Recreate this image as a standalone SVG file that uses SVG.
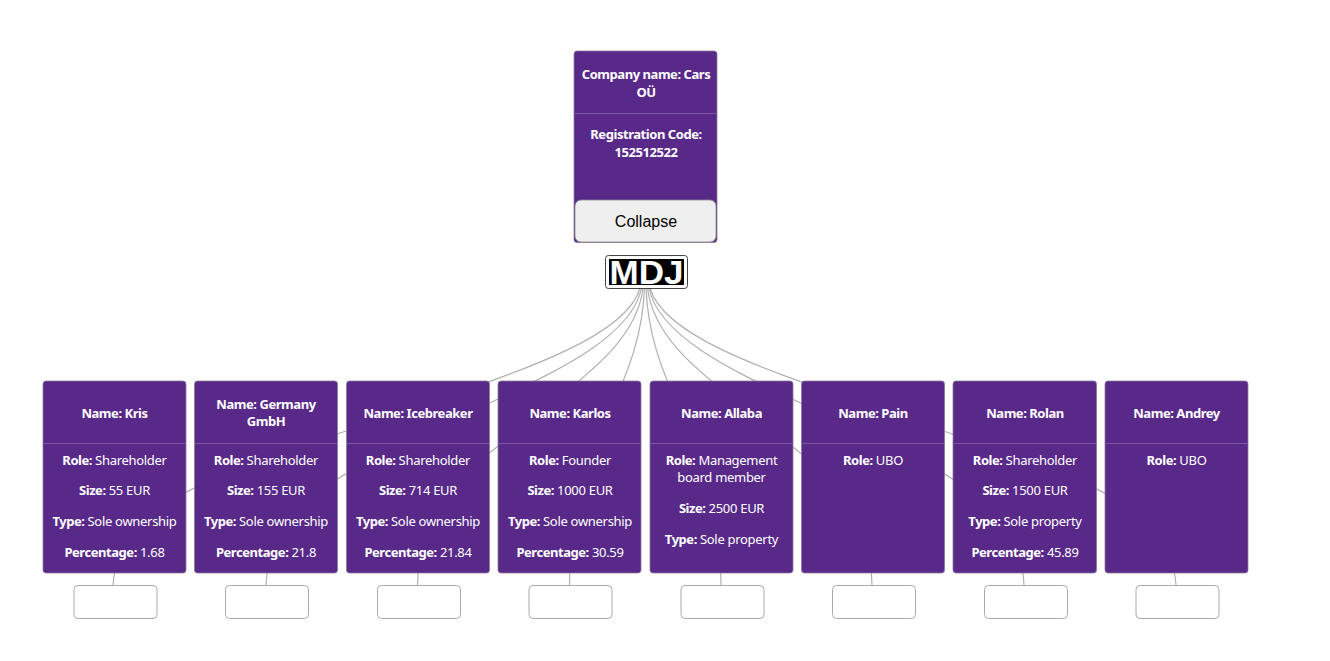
<svg xmlns="http://www.w3.org/2000/svg" width="1330" height="661" viewBox="0 0 1330 661">
<style>
.card{fill:#59298a;stroke:#8a7a9a;stroke-width:.8}
.div{stroke:#7a56a3;stroke-width:1.2}
.t{font-family:"Noto Sans","Open Sans",sans-serif;font-size:13px;fill:#fff;text-anchor:middle;letter-spacing:-.3px}
.b{font-weight:700;letter-spacing:-.45px}
.box{fill:#fff;stroke:#aaa;stroke-width:1}
.link{fill:none;stroke:#b0b0b0;stroke-width:1.2}
</style>
<rect width="1330" height="661" fill="#fff"/>
<g id="connectors">
<path class="link" d="M640,288C624.2,345 481.9,382.5 376.5,420.5C244.75,467 118.3,495 113,585"/>
<path class="link" d="M641.5,288C630.2,345 528.85,382.5 453.75,420.5C359.9,467 269.8,495 266,585"/>
<path class="link" d="M643,288C636.2,345 575.35,382.5 530.25,420.5C473.9,467 419.8,495 417.5,585"/>
<path class="link" d="M644.5,288C642.25,345 622,382.5 607,420.5C588.25,467 570.25,495 569.5,585"/>
<path class="link" d="M646,288C648.25,345 668.5,382.5 683.5,420.5C702.25,467 720.25,495 721,585"/>
<path class="link" d="M647.5,288C654.2,345 714.85,382.5 759.75,420.5C815.9,467 869.8,495 872,585"/>
<path class="link" d="M649,288C660.25,345 761.5,382.5 836.5,420.5C930.25,467 1020.25,495 1024,585"/>
<path class="link" d="M650,288C665.8,345 807.8,382.5 913,420.5C1044.5,467 1170.7,495 1176,585"/>
</g>
<g id="company">
<rect class="card" x="574" y="51" width="143" height="191.500" rx="3"/>
<line class="div" x1="574.500" y1="113.500" x2="716.500" y2="113.500"/>
<text class="t b" x="646" y="79">Company name: Cars</text>
<text class="t b" x="646" y="97">OÜ</text>
<text class="t b" x="646" y="139">Registration Code:</text>
<text class="t b" x="646" y="157">152512522</text>
<rect x="575" y="200" width="141" height="42" rx="6" fill="#efefef" stroke="#8a8a8a" stroke-width=".8"/>
<text x="646" y="227" font-family="Liberation Sans,Arial,sans-serif" font-size="16" fill="#000" text-anchor="middle">Collapse</text>
</g>
<g id="logo">
<rect x="605.500" y="255.500" width="82" height="33" rx="3" fill="#fff" stroke="#444" stroke-width="1"/>
<rect x="609" y="259" width="75" height="26" fill="#000"/>
<text x="646.500" y="284" font-family="Liberation Sans,Arial,sans-serif" font-weight="700" font-size="33" fill="#fff" text-anchor="middle" textLength="74" lengthAdjust="spacingAndGlyphs">MDJ</text>
</g>
<g id="kris">
<rect class="card" x="43" y="381" width="143" height="192" rx="3"/><line class="div" x1="43.500" y1="443.500" x2="185.500" y2="443.500"/>
<text class="t b" x="114.500" y="418">Name: Kris</text>
<text class="t" x="114.500" y="465"><tspan class="b">Role:</tspan> Shareholder</text>
<text class="t" x="114.500" y="495"><tspan class="b">Size:</tspan> 55 EUR</text>
<text class="t" x="114.500" y="526"><tspan class="b">Type:</tspan> Sole ownership</text>
<text class="t" x="114.500" y="557"><tspan class="b">Percentage:</tspan> 1.68</text>
<rect class="box" x="74" y="585.500" width="83" height="33" rx="4"/>
</g>
<g id="germany">
<rect class="card" x="194.500" y="381" width="143" height="192" rx="3"/><line class="div" x1="195" y1="443.500" x2="337" y2="443.500"/>
<text class="t b" x="266" y="409">Name: Germany</text>
<text class="t b" x="266" y="426">GmbH</text>
<text class="t" x="266" y="465"><tspan class="b">Role:</tspan> Shareholder</text>
<text class="t" x="266" y="495"><tspan class="b">Size:</tspan> 155 EUR</text>
<text class="t" x="266" y="526"><tspan class="b">Type:</tspan> Sole ownership</text>
<text class="t" x="266" y="557"><tspan class="b">Percentage:</tspan> 21.8</text>
<rect class="box" x="225.500" y="585.500" width="83" height="33" rx="4"/>
</g>
<g id="icebreaker">
<rect class="card" x="346.500" y="381" width="143" height="192" rx="3"/><line class="div" x1="347" y1="443.500" x2="489" y2="443.500"/>
<text class="t b" x="418" y="418">Name: Icebreaker</text>
<text class="t" x="418" y="465"><tspan class="b">Role:</tspan> Shareholder</text>
<text class="t" x="418" y="495"><tspan class="b">Size:</tspan> 714 EUR</text>
<text class="t" x="418" y="526"><tspan class="b">Type:</tspan> Sole ownership</text>
<text class="t" x="418" y="557"><tspan class="b">Percentage:</tspan> 21.84</text>
<rect class="box" x="377.500" y="585.500" width="83" height="33" rx="4"/>
</g>
<g id="karlos">
<rect class="card" x="498" y="381" width="143" height="192" rx="3"/><line class="div" x1="498.500" y1="443.500" x2="640.500" y2="443.500"/>
<text class="t b" x="570" y="418">Name: Karlos</text>
<text class="t" x="570" y="465"><tspan class="b">Role:</tspan> Founder</text>
<text class="t" x="570" y="495"><tspan class="b">Size:</tspan> 1000 EUR</text>
<text class="t" x="570" y="526"><tspan class="b">Type:</tspan> Sole ownership</text>
<text class="t" x="570" y="557"><tspan class="b">Percentage:</tspan> 30.59</text>
<rect class="box" x="529" y="585.500" width="83" height="33" rx="4"/>
</g>
<g id="allaba">
<rect class="card" x="650" y="381" width="143" height="192" rx="3"/><line class="div" x1="650.500" y1="443.500" x2="792.500" y2="443.500"/>
<text class="t b" x="721.500" y="418">Name: Allaba</text>
<text class="t" x="721.500" y="465"><tspan class="b">Role:</tspan> Management</text>
<text class="t" x="721.500" y="482">board member</text>
<text class="t" x="721.500" y="513"><tspan class="b">Size:</tspan> 2500 EUR</text>
<text class="t" x="721.500" y="544"><tspan class="b">Type:</tspan> Sole property</text>
<rect class="box" x="681" y="585.500" width="83" height="33" rx="4"/>
</g>
<g id="pain">
<rect class="card" x="801.500" y="381" width="143" height="192" rx="3"/><line class="div" x1="802" y1="443.500" x2="944" y2="443.500"/>
<text class="t b" x="873" y="418">Name: Pain</text>
<text class="t" x="873" y="465"><tspan class="b">Role:</tspan> UBO</text>
<rect class="box" x="832.500" y="585.500" width="83" height="33" rx="4"/>
</g>
<g id="rolan">
<rect class="card" x="953" y="381" width="143.500" height="192" rx="3"/><line class="div" x1="953.500" y1="443.500" x2="1096" y2="443.500"/>
<text class="t b" x="1025" y="418">Name: Rolan</text>
<text class="t" x="1025" y="465"><tspan class="b">Role:</tspan> Shareholder</text>
<text class="t" x="1025" y="495"><tspan class="b">Size:</tspan> 1500 EUR</text>
<text class="t" x="1025" y="526"><tspan class="b">Type:</tspan> Sole property</text>
<text class="t" x="1025" y="557"><tspan class="b">Percentage:</tspan> 45.89</text>
<rect class="box" x="984.500" y="585.500" width="83" height="33" rx="4"/>
</g>
<g id="andrey">
<rect class="card" x="1105" y="381" width="143" height="192" rx="3"/><line class="div" x1="1105.500" y1="443.500" x2="1247.500" y2="443.500"/>
<text class="t b" x="1176.500" y="418">Name: Andrey</text>
<text class="t" x="1176.500" y="465"><tspan class="b">Role:</tspan> UBO</text>
<rect class="box" x="1136" y="585.500" width="83" height="33" rx="4"/>
</g>
</svg>
